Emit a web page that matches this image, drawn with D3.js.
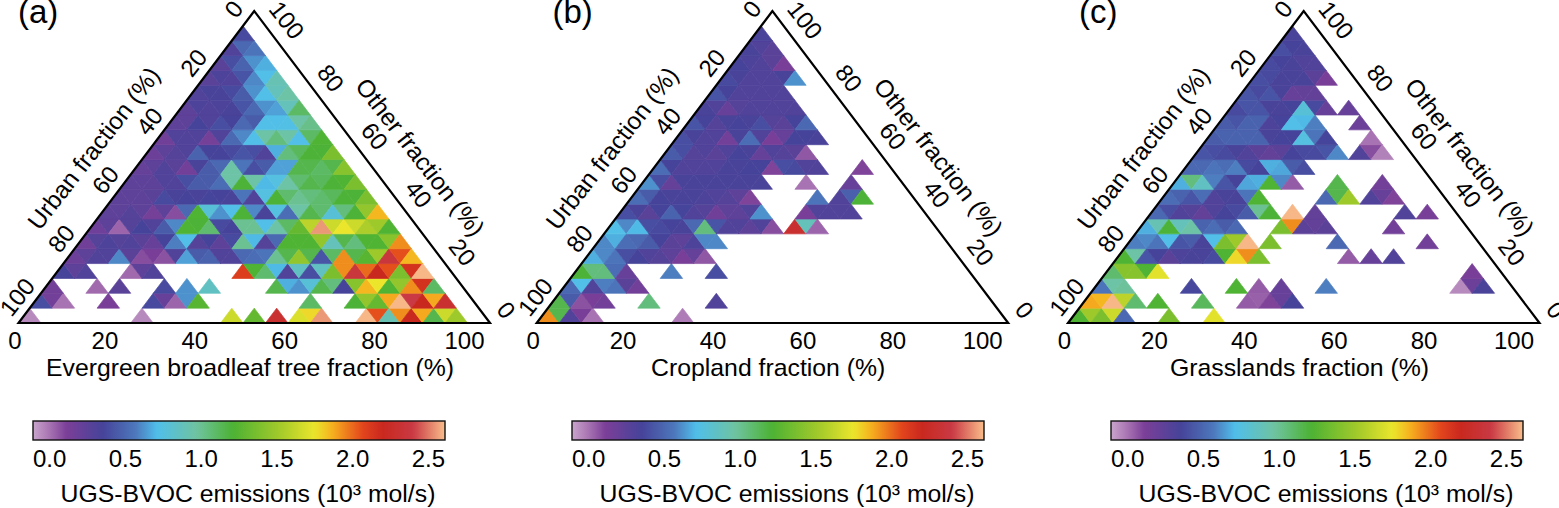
<!DOCTYPE html>
<html><head><meta charset="utf-8">
<script src="https://cdn.jsdelivr.net/npm/d3@7"></script>
<style>html,body{margin:0;padding:0;background:#fff}svg{display:block}text{font-family:"Liberation Sans",Arial,sans-serif;fill:#000}</style>
</head><body><svg id="c" width="1559" height="508"></svg>
<script>
const _ = null;
// rows run bottom to top; each row alternates upward, downward cell, left to right
const a00=[-.05,_,_,_,_,_,_,_,_,_,-.05,_,_,_,_,_,_,_,1.65,_,1.3,_,2.3,_,1.7,1.78,2.55,_,_,_,2.6,2.05,.9,1.93,2.2,1.88,1.15,1.65,1.5];
const a01=[.4,.15,0,_,_,_,.12,_,_,_,.38,.2,.03,.62,1.25,_,_,_,_,_,_,_,_,_,1.1,_,_,_,1.2,1.46,1.3,1.88,2.6,2.4,2.2,1.88,2.3];
const a02=[.15,_,_,_,.02,_,.26,_,_,_,.38,_,.62,_,.85,_,_,_,_,_,1.15,.68,.62,.78,1.15,1.05,.35,1.42,1.85,1.75,1.22,1.46,1.93,2.15,1.1];
const a03=[.35,.24,.3,_,_,_,.02,.24,.3,_,_,_,_,_,_,_,2.1,1.22,1.08,.7,.3,.85,.4,.85,1.38,1.93,2.35,2,2.2,2.05,1.38,2.15,2.6];
const a04=[.18,.24,.3,.3,.6,.26,.08,.12,.07,.3,.65,.45,.48,.3,.3,.5,.52,.55,1,1.15,1.46,1.15,.42,1.1,1.93,1.15,1.25,1.5,2.35,2.05,1.85];
const a05=[.16,.28,.32,.28,.3,.26,.2,.35,.58,.72,.28,.35,.24,.38,1,.7,.28,.5,1.22,1.22,1.22,1.46,.88,1.15,1.05,1.22,1.22,1.42,1.93];
const a06=[.17,.24,.03,.28,.35,.3,.45,.6,1.22,1.2,1.08,.38,.35,1,1,.72,.95,1.1,1.3,1.6,2.55,1.65,1.75,1.65,1.55,1.5,1.22];
const a07=[.24,.24,.28,.24,.14,.24,.08,.5,1.22,.78,.62,.72,1.2,.6,.33,.75,.52,.95,1.15,1.08,.78,1.05,1.2,1.46,1.85];
const a08=[.24,.24,.24,.26,.38,.33,.35,.33,.36,.35,.33,.55,.3,.75,1.2,1.08,1,1.05,1.08,1.12,1.2,1.2,1.38];
const a09=[.24,.24,.24,.3,.3,.4,.45,.45,.52,.95,1.2,.95,.7,.75,.95,1.08,1.15,1.12,1.2,1.22,1.38];
const a10=[.21,.24,.3,.26,.15,.33,.45,.5,.95,.55,.4,.45,.65,.65,1.15,1.15,1.1,1.15,1.42];
const a11=[.18,.24,.28,.3,.48,.35,.35,.38,.42,.4,.3,.68,1.05,1.12,1.2,1.2,1.38];
const a12=[.16,.3,.3,.3,.14,.3,.5,.6,.72,.95,1.05,.95,.72,1.1,1.22];
const a13=[.24,.24,.35,.3,.4,.35,.5,.45,.72,.72,.73,.95,1.02];
const a14=[.24,.32,.3,.32,.33,.42,.5,.62,.65,.88,1.1];
const a15=[.3,.33,.33,.38,.45,.62,.72,.88,.95];
const a16=[.26,.32,.3,.42,.6,.72,.9];
const a17=[.26,.4,.48,.62,.68];
const a18=[.3,.5,.55];
const a19=[.38];

const b00=[1.93,1.15,.3,.12,0,_,_,_,_,_,_,_,-.02];
const b01=[1.15,.45,.07,.12,.15,_,_,_,1.05,_,_,_,_,_,.3];
const b02=[.5,.72,.3,.58,.55,.26,.15];
const b03=[1.2,1.05,1.05,.52,.2,_,_,_,.58,_,_,_,.4];
const b04=[.68,.6,.55,.4,.35,.3,.28,.24,.12,.21,.06];
const b05=[.6,.68,.52,.5,.45,.35,.26,.24,.32,.6,.6];
const b06=[.72,.6,.7,.4,.38,.35,.33,.5,1.05,.42,.3,.3,.24,.3,.08,_,2.3,.88,.03];
const b07=[.4,.33,.26,.35,.48,.36,.3,.28,.16,.24,.24,.3,.62,_,_,_,.12,.3,.3,.3,.3];
const b08=[.52,.45,.35,.33,.33,.33,.32,.3,.28,.24,.1,_,_,_,_,_,.55,_,.3,.47,1.2];
const b09=[.62,.4,.21,.33,.33,.33,.33,.33,.33,.33,.33,_,_,_,0,_,_,_,.2];
const b10=[.52,.35,.3,.3,.3,.3,.33,.33,.35,.35,.1,.4,.38,.3,.3,_,_,_,.1];
const b11=[.45,.4,.28,.3,.26,.3,.35,.33,.21,.3,.28,.26,.06];
const b12=[.4,.33,.3,.3,.15,.33,.52,.3,.12,.2,.35,.35,.33];
const b13=[.42,.35,.28,.33,.35,.33,.4,.28,.26,.35,.5];
const b14=[.33,.3,.2,.28,.3,.3,.3,.3,.3];
const b15=[.42,.35,.3,.3,.3,.3,.3];
const b16=[.38,.33,.3,.3,.3,.33,.62];
const b17=[.35,.32,.3,.26,.12];
const b18=[.33,.3,.26];
const b19=[.33];

const c00=[1.22,1.5,1.38,1.65,.5,_,_,_,1.38,_,_,_,1.72];
const c01=[1.88,1.85,2.6,1.6,1.08,_,1.22,_,_,_,1.12,_,_,_,.05,.04,.1,.2,.35];
const c02=[.55,.95,.98,_,_,_,_,_,.37,_,_,_,1.22,_,.05,_,.2,_,_,_,.58,_,_,_,_,_,_,_,_,_,_,_,-.05,.18,.33];
const c03=[1.08,1.42,1.42,1.22,1.72,_,_,_,_,_,_,_,_,_,_,_,_,_,_,_,_,_,_,_,_,_,_,_,_,_,_,_,.12];
const c04=[1.22,.95,.42,.35,.25,.32,.33,.33,.38,1.22,1.78,1.93,1.38,_,_,_,_,_,_,_,.05,_,.2,_,.3];
const c05=[.58,.6,.55,.72,.42,.45,.33,.72,1.38,1.5,2.6,_,1.38,_,_,_,_,_,.5,_,_,_,_,_,_,_,.15];
const c06=[.68,.9,1.2,.88,.95,.48,.52,.45,.5,_,_,_,1.38,1.93,.25,.22,.25,_,_,_,_,_,.15];
const c07=[.5,.4,.3,.28,.22,.3,.35,.38,.45,1,1.2,_,2.6,_,.22,_,_,_,_,_,_,_,.3,_,.13];
const c08=[.52,.48,.42,.52,.3,.33,.33,.55,1.22,_,_,_,_,_,.5,1.15,1.5,_,.3,.2,.1];
const c09=[.68,1.05,.85,.58,.42,.35,.66,.68,1.22,.6,.05,_,_,_,1.15,_,_,_,.15];
const c10=[.5,.5,.55,.52,.58,.38,.35,.68,.66,.45,.4];
const c11=[.42,.4,.38,.33,.3,.25,.22,.25,.35,.38,.38,.42,.6,_,.3,.08,-.03];
const c12=[.45,.48,.48,.48,.48,.33,.35,.35,.75,.55,.36,_,_,_,0];
const c13=[.45,.42,.48,.48,.32,.35,.72,.7,.58,_,_,_,.18];
const c14=[.38,.42,.42,.33,.33,.35,.78,.38,.2,_,.2];
const c15=[.42,.38,.42,.33,.2,.22,.22];
const c16=[.4,.38,.33,.33,.33,.25,.12];
const c17=[.38,.35,.33,.3,.3];
const c18=[.4,.35,.33];
const c19=[.33];

const gridA=[a00,a01,a02,a03,a04,a05,a06,a07,a08,a09,a10,a11,a12,a13,a14,a15,a16,a17,a18,a19];
const gridB=[b00,b01,b02,b03,b04,b05,b06,b07,b08,b09,b10,b11,b12,b13,b14,b15,b16,b17,b18,b19];
const gridC=[c00,c01,c02,c03,c04,c05,c06,c07,c08,c09,c10,c11,c12,c13,c14,c15,c16,c17,c18,c19];

const panelTags=["(a)","(b)","(c)"];
const xTitles=["Evergreen broadleaf tree fraction (%)","Cropland fraction (%)","Grasslands fraction (%)"];
const axisTicks=[0,20,40,60,80,100];
const barTicks=[0,.5,1,1.5,2,2.5];
const barDomain=[-.11,2.61];
const colourValues=[-.11,0,.11,.35,.57,.71,.97,1.21,1.54,1.75,1.87,2.07,2.2,2.4,2.61];
const colourStops=["#c9a5cc","#a873b2","#7b3f98","#46439a","#4d79bd","#50bfea","#6fc3a0","#4cb233","#a9cc2a","#ebe62c","#f6ae1e","#e2441c","#c9281f","#c93a44","#f9bd8a"];

const color=d3.scaleLinear().domain(colourValues).range(colourStops).interpolate(d3.interpolateRgb).clamp(true);
const svg=d3.select("#c");
const defs=svg.append("defs");
const grad=defs.append("linearGradient").attr("id","cb").attr("x1","0").attr("x2","1").attr("y1","0").attr("y2","0");
const span=barDomain[1]-barDomain[0];
d3.range(0,101).forEach(k=>{const v=barDomain[0]+span*k/100;grad.append("stop").attr("offset",k+"%").attr("stop-color",color(v));});

const layout=[{L:18.5,grid:gridA,barL:33,barTitleX:248,tagX:18},{L:536.7,grid:gridB,barL:572,barTitleX:787,tagX:552.5},{L:1068,grid:gridC,barL:1111,barTitleX:1326,tagX:1079}];
const W=471.5, Tick=24, Label=24.8, Base=323, Top=11, Ang=52;

layout.forEach((p,idx)=>{
  const g=svg.append("g");
  const x=d3.scaleLinear().domain([0,105]).range([p.L,p.L+W]);
  const y=d3.scaleLinear().domain([0,105]).range([Base,Top]);
  const pt=(a,u)=>[x(a+u/2),y(u)];
  const cells=[];
  p.grid.forEach((row,r)=>row.forEach((v,k)=>{
    if(v===null) return;
    const i=Math.floor(k/2), a=i*5, u=r*5;
    const tri=k%2===0?[pt(a,u),pt(a+5,u),pt(a,u+5)]:[pt(a+5,u),pt(a+5,u+5),pt(a,u+5)];
    cells.push({v,tri});
  }));
  g.selectAll("path.cell").data(cells).join("path").attr("class","cell")
    .attr("d",d=>"M"+d.tri.map(q=>q.join(",")).join("L")+"Z")
    .attr("fill",d=>color(d.v)).attr("stroke",d=>color(d.v)).attr("stroke-width",.7).attr("stroke-linejoin","round");
  g.append("path").attr("d","M"+[pt(0,105),pt(0,0),pt(105,0)].map(q=>q.join(",")).join("L")+"Z")
    .attr("fill","none").attr("stroke","#000").attr("stroke-width",2.2).attr("stroke-linejoin","miter");

  // bottom axis
  const bx=d3.scaleLinear().domain([0,100]).range([p.L-3.5,p.L+446]);
  g.selectAll("text.bt").data(axisTicks).join("text").attr("class","bt")
    .attr("x",d=>bx(d)).attr("y",349).attr("text-anchor","middle").attr("font-size",Tick).text(d=>d);
  g.append("text").attr("x",p.L+231.5).attr("y",376).attr("text-anchor","middle").attr("font-size",Label).text(xTitles[idx]);
  // left axis
  const lx=d3.scaleLinear().domain([0,100]).range([p.L+219,p.L-1.5]);
  const ly=d3.scaleLinear().domain([0,100]).range([4,297]);
  g.selectAll("text.lt").data(axisTicks).join("text").attr("class","lt").attr("text-anchor","middle").attr("dy","0.36em")
    .attr("font-size",Tick).attr("transform",d=>`translate(${lx(d)-(d===0?4:0)},${ly(d)+(d===0?5:0)}) rotate(${-Ang})`).text(d=>d);
  g.append("text").attr("text-anchor","middle").attr("dy","0.36em").attr("font-size",24.4)
    .attr("transform",`translate(${p.L+75},148) rotate(${-Ang})`).text("Urban fraction (%)");
  // right axis
  const rx=d3.scaleLinear().domain([100,0]).range([p.L+268.5,p.L+488]);
  const ry=d3.scaleLinear().domain([100,0]).range([20,310]);
  g.selectAll("text.rt").data(axisTicks).join("text").attr("class","rt").attr("text-anchor","middle").attr("dy","0.36em")
    .attr("font-size",Tick).attr("transform",d=>`translate(${rx(d)},${ry(d)}) rotate(${Ang})`).text(d=>d);
  g.append("text").attr("text-anchor","middle").attr("dy","0.36em").attr("font-size",24.4)
    .attr("transform",`translate(${p.L+402},157) rotate(${Ang})`).text("Other fraction (%)");
  // tag
  g.append("text").attr("x",p.tagX).attr("y",22.5).attr("font-size",33).text(panelTags[idx]);
  // colour bar
  const cx=d3.scaleLinear().domain(barDomain).range([p.barL,p.barL+412]);
  g.append("rect").attr("x",p.barL).attr("y",421).attr("width",412).attr("height",19).attr("fill","url(#cb)").attr("stroke","#111").attr("stroke-width",1.4);
  g.selectAll("text.ct").data(barTicks).join("text").attr("class","ct")
    .attr("x",d=>cx(d)).attr("y",467).attr("text-anchor","middle").attr("font-size",Tick).text(d=>d.toFixed(1));
  g.append("text").attr("x",p.barTitleX).attr("y",501.5).attr("text-anchor","middle").attr("font-size",Label).text("UGS-BVOC emissions (10³ mol/s)");
});
</script></body></html>
